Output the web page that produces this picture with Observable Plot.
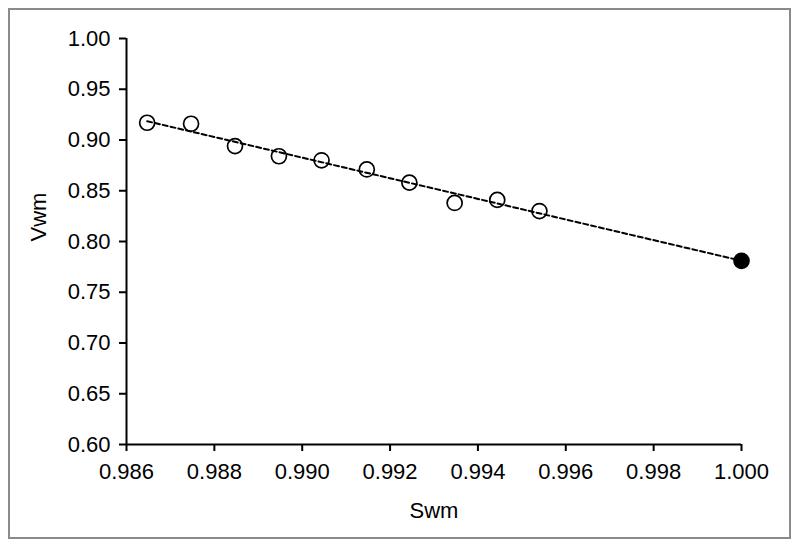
<!DOCTYPE html>
<html>
<head>
<meta charset="utf-8">
<script src="https://cdn.jsdelivr.net/npm/d3@7"></script>
<script src="https://cdn.jsdelivr.net/npm/@observablehq/plot@0.6"></script>
<style>
  html, body { margin: 0; padding: 0; background: #fff; }
  #wrap { position: relative; width: 800px; height: 547px; }
  #frame { position: absolute; left: 8px; top: 8px; width: 779px; height: 527px; border: 2px solid #8a8a8a; pointer-events: none; }
</style>
</head>
<body>
<div id="wrap"><div id="frame"></div></div>
<script>
// Open points (Swm, Vwm)
const swmOpen = [0.98647, 0.98747, 0.98847, 0.98947, 0.99044, 0.99147, 0.99244, 0.99347, 0.99444, 0.99540];
const vwmOpen = [0.917, 0.916, 0.894, 0.884, 0.880, 0.871, 0.858, 0.838, 0.841, 0.830];
// Filled point
const swmFilled = [1.000];
const vwmFilled = [0.781];
// Dashed fit line endpoints
const swmFit = [0.98647, 1.000];
const vwmFit = [0.9185, 0.781];
// Ticks and labels
const xTicks = [0.986, 0.988, 0.990, 0.992, 0.994, 0.996, 0.998, 1.000];
const yTicks = [0.60, 0.65, 0.70, 0.75, 0.80, 0.85, 0.90, 0.95, 1.00];
const xLabel = ["Swm"];
const yLabel = ["Vwm"];

const openData = swmOpen.map((s, i) => ({s, v: vwmOpen[i]}));
const filledData = swmFilled.map((s, i) => ({s, v: vwmFilled[i]}));
const fitData = swmFit.map((s, i) => ({s, v: vwmFit[i]}));

const chart = Plot.plot({
  width: 800,
  height: 547,
  marginLeft: 126,
  marginRight: 59,
  marginTop: 38,
  marginBottom: 103,
  style: { fontFamily: "Liberation Sans, Arial, sans-serif", fontSize: "22px", color: "#000", background: "transparent" },
  x: { domain: [0.986, 1.000] },
  y: { domain: [0.60, 1.00] },
  marks: [
    Plot.axisX({ ticks: xTicks, tickFormat: d3.format(".3f"), tickSize: 7, tickPadding: 12, strokeWidth: 2, label: null, fontSize: 22 }),
    Plot.axisY({ ticks: yTicks, tickFormat: d3.format(".2f"), tickSize: 7, tickPadding: 9, strokeWidth: 2, label: null, fontSize: 22 }),
    Plot.ruleX([0.986], { stroke: "#000", strokeWidth: 2 }),
    Plot.ruleY([0.60], { stroke: "#000", strokeWidth: 2 }),
    Plot.text(xLabel, { frameAnchor: "bottom", dy: 66, lineAnchor: "middle", fontSize: 22, fill: "#000" }),
    Plot.text(yLabel, { frameAnchor: "left", dx: -88, rotate: -90, lineAnchor: "middle", fontSize: 22, fill: "#000" }),
    Plot.line(fitData, { x: "s", y: "v", stroke: "#000", strokeWidth: 2, strokeDasharray: "5,3" }),
    Plot.dot(openData, { x: "s", y: "v", r: 7.5, stroke: "#000", strokeWidth: 1.7, fill: "none" }),
    Plot.dot(filledData, { x: "s", y: "v", r: 7.5, stroke: "#000", strokeWidth: 1.7, fill: "#000" })
  ]
});
document.getElementById("wrap").prepend(chart);
</script>
</body>
</html>
